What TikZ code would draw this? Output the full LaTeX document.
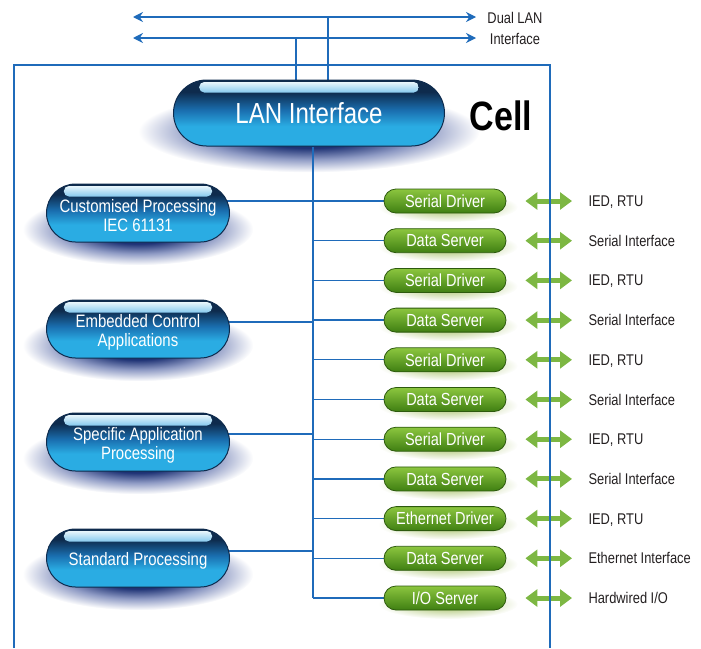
\documentclass[tikz,border=0pt]{standalone}
\usepackage{fontspec}
\setmainfont{Liberation Sans}[FakeStretch=0.83]
\usetikzlibrary{shapes.misc,arrows.meta}
\definecolor{wire}{HTML}{1F6BBA}
\definecolor{navy}{HTML}{0E2B4D}
\definecolor{ocean}{HTML}{1A6FB0}
\definecolor{sky}{HTML}{2AACE3}
\definecolor{glosstop}{HTML}{E8F6FC}
\definecolor{glossbot}{HTML}{86C9EE}
\definecolor{haze}{HTML}{1E3274}
\definecolor{mist}{HTML}{8E9AC4}
\definecolor{leafdark}{HTML}{2D5A0E}
\definecolor{leaftop}{HTML}{8CC63F}
\definecolor{leafmid}{HTML}{5E9E22}
\definecolor{leafbot}{HTML}{3F7F12}
\definecolor{glow}{HTML}{9DBA58}
\definecolor{leaf}{HTML}{7DB743}
\definecolor{ink}{HTML}{231F20}

% bright lower half, dark top
\pgfdeclareverticalshading{bluegloss}{100bp}{color(0bp)=(sky); color(25bp)=(sky);
  color(40bp)=(sky); color(52bp)=(ocean); color(66bp)=(navy); color(100bp)=(navy)}
% soft drop shadow
\pgfdeclareradialshading{bluehaze}{\pgfpoint{0bp}{0bp}}{color(0bp)=(haze); color(10bp)=(haze);
  color(17bp)=(mist); color(25bp)=(white); color(50bp)=(white)}

\pgfdeclarelayer{shadow}
\pgfdeclarelayer{wires}
\pgfsetlayers{shadow,wires,main}

\tikzset{
  bluepill/.style={rounded rectangle, draw=navy, line width=1pt, inner sep=0pt,
    shading=bluegloss},
  gloss/.style={rounded corners=5pt, top color=glosstop, bottom color=glossbot},
  bluetext/.style={text=white, align=center, font=\fontsize{18}{19}\selectfont},
  leafpill/.style={rounded rectangle, draw=leafdark, line width=0.8pt, inner sep=0pt,
    top color=leaftop, middle color=leafmid, bottom color=leafbot,
    minimum width=122pt, minimum height=24pt, text=white,
    text height=12.5pt, text depth=0pt, font=\fontsize{17.5}{18}\selectfont},
  portlabel/.style={anchor=west, text=ink, text height=11pt, text depth=0pt,
    font=\fontsize{15.5}{16}\selectfont},
  wireline/.style={draw=wire, line width=1.3pt},
  busarrow/.style={wireline, {Stealth[length=10pt,width=10pt]}-{Stealth[length=10pt,width=10pt]}},
  linkarrow/.style={draw=leaf, line width=5pt, {Triangle[width=17pt,length=12pt]}-{Triangle[width=17pt,length=12pt]}},
}

% glossy blue pill: name, centre, width, height
\newcommand{\bluepill}[4]{%
  \node[bluepill, minimum width=#3pt, minimum height=#4pt] (#1) at (#2) {};
  \begin{pgfonlayer}{shadow}
    \shade[shading=bluehaze] ([yshift=-0.28*#4pt]#1.center) ellipse ({0.63*#3} and {0.62*#4});
  \end{pgfonlayer}
  \shade[gloss] ([xshift=-0.405*#3pt, yshift=-2.5pt]#1.north) rectangle ([xshift=0.405*#3pt, yshift=-13pt]#1.north);
}

\begin{document}
\begin{tikzpicture}[x=1pt, y=-1pt]
  \useasboundingbox (0,0) rectangle (701,648);

  % Dual LAN bus
  \coordinate (T1l) at (133,17);
  \coordinate (T1r) at (476,17);
  \coordinate (T2l) at (133,38);
  \coordinate (T2r) at (476,38);
  \coordinate (D1) at (328,17);
  \coordinate (D2) at (296,38);
  \draw[busarrow] (T1l) -- (T1r);
  \draw[busarrow] (T2l) -- (T2r);
  \node[align=center, text=ink, font=\fontsize{15.5}{21}\selectfont] (Dual) at (515,28) {Dual LAN\\Interface};

  % LAN interface and cell title
  \bluepill{LAN}{309,113}{271}{66}
  \node[text=white, font=\fontsize{29}{30}\selectfont] (LANt) at (LAN.center) {LAN Interface};
  \node[text=black, font=\fontsize{41}{42}\selectfont\bfseries] (Cell) at (501,116) {Cell};
  \begin{pgfonlayer}{wires}
    \draw[wireline] (D1) -- (D1 |- LAN.north);
    \draw[wireline] (D2) -- (D2 |- LAN.north);
  \end{pgfonlayer}

  % Application pills
  \bluepill{P1}{138,213}{183}{58}
  \node[bluetext] (P1t) at ([yshift=-3pt]P1.center) {Customised Processing\\IEC 61131};
  \bluepill{P2}{138,329}{183}{58}
  \node[bluetext] (P2t) at ([yshift=-3pt]P2.center) {Embedded Control\\Applications};
  \bluepill{P3}{138,442}{183}{58}
  \node[bluetext] (P3t) at ([yshift=-3pt]P3.center) {Specific Application\\Processing};
  \bluepill{P4}{138,558}{183}{58}
  \node[bluetext] (P4t) at ([yshift=-3pt]P4.center) {Standard Processing};

  % Drivers and servers
  \coordinate (J) at (313,598);
  \foreach \k/\task/\port [evaluate=\k as \y using 201+39.7*(\k-1)] in {
      1/Serial Driver/{IED, RTU}, 2/Data Server/Serial Interface,
      3/Serial Driver/{IED, RTU}, 4/Data Server/Serial Interface,
      5/Serial Driver/{IED, RTU}, 6/Data Server/Serial Interface,
      7/Serial Driver/{IED, RTU}, 8/Data Server/Serial Interface,
      9/Ethernet Driver/{IED, RTU}, 10/Data Server/Ethernet Interface,
      11/{I/O Server}/{Hardwired I/O}} {
    \node[leafpill] (G\k) at (445,\y) {\task};
    \node[portlabel] (R\k) at (585,\y) {\port};
    \begin{pgfonlayer}{shadow}
      \shade[inner color=glow, outer color=white] ([xshift=3pt, yshift=-6pt]G\k.center) ellipse (70 and 15);
    \end{pgfonlayer}
    \begin{pgfonlayer}{wires}
      \draw[wireline] (J |- G\k.west) -- (G\k.west);
    \end{pgfonlayer}
    \draw[linkarrow] ([xshift=19pt]G\k.east) -- ([xshift=-13pt]R\k.west);
  }

  % Wiring inside the cell
  \begin{pgfonlayer}{wires}
    \draw[wireline] (LAN.south -| J) -- (J);
    \draw[wireline] (P1.center |- G1.west) -- (G1.west);
    \draw[wireline] ([yshift=7pt]P2.center) -- ([yshift=7pt]P2.center -| J);
    \draw[wireline] ([yshift=8pt]P3.center) -- ([yshift=8pt]P3.center -| J);
    \draw[wireline] ([yshift=7pt]P4.center) -- ([yshift=7pt]P4.center -| J);
  \end{pgfonlayer}

  % Cell frame
  \draw[wireline] (14,648) |- (550,65) -- (550,648);
\end{tikzpicture}
\end{document}
